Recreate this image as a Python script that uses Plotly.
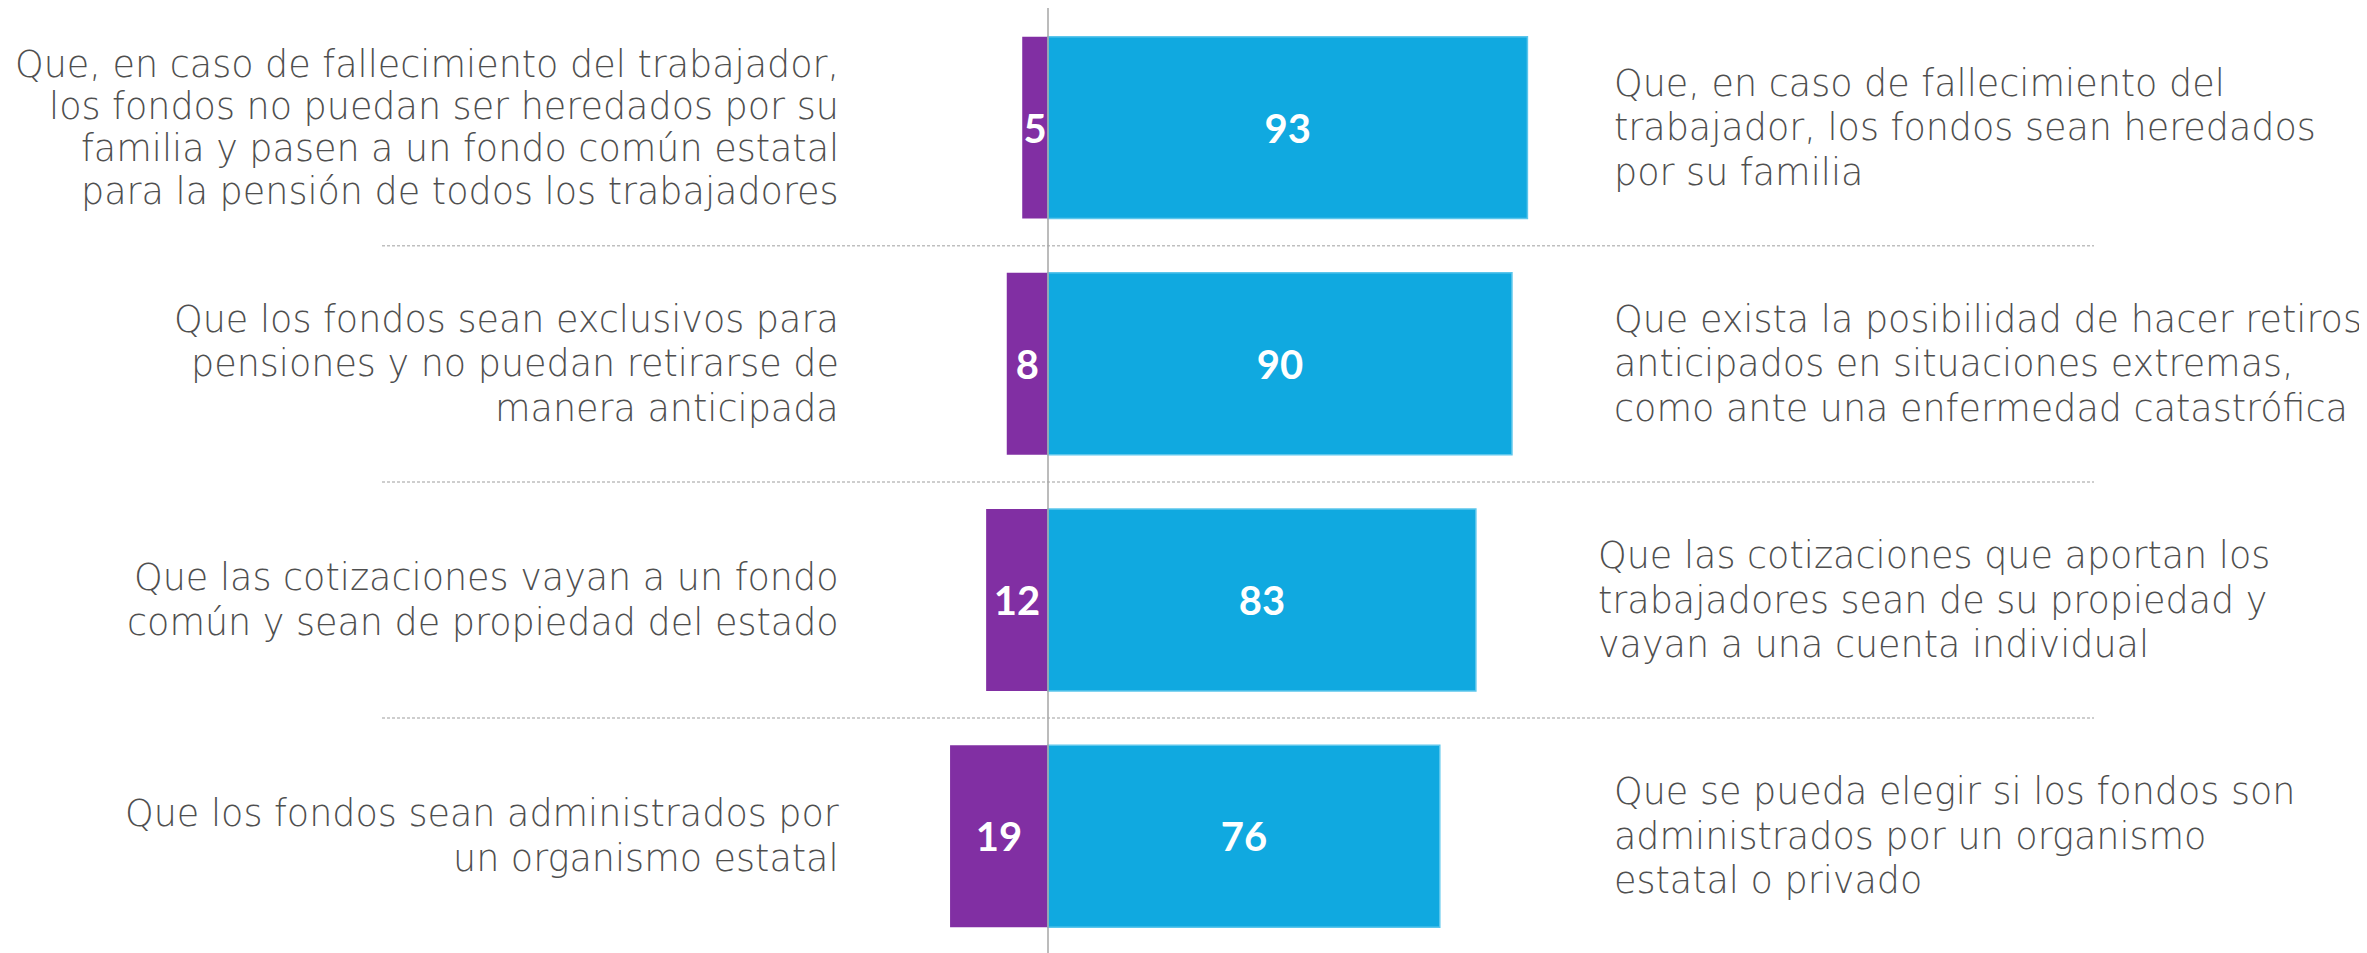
import plotly.graph_objects as go

left_labels = [
    "Que, en caso de fallecimiento del trabajador,<br>los fondos no puedan ser heredados por su<br>familia y pasen a un fondo común estatal<br>para la pensión de todos los trabajadores",
    "Que los fondos sean exclusivos para<br>pensiones y no puedan retirarse de<br>manera anticipada",
    "Que las cotizaciones vayan a un fondo<br>común y sean de propiedad del estado",
    "Que los fondos sean administrados por<br>un organismo estatal",
]
right_labels = [
    "Que, en caso de fallecimiento del<br>trabajador, los fondos sean heredados<br>por su familia",
    "Que exista la posibilidad de hacer retiros<br>anticipados en situaciones extremas,<br>como ante una enfermedad catastrófica",
    "Que las cotizaciones que aportan los<br>trabajadores sean de su propiedad y<br>vayan a una cuenta individual",
    "Que se pueda elegir si los fondos son<br>administrados por un organismo<br>estatal o privado",
]
left_values = [5, 8, 12, 19]
right_values = [93, 90, 83, 76]

rows = list(range(len(left_values)))

PURPLE = "#812FA3"
BLUE = "#10A9E0"
TEXT_GRAY = "#4F4F4F"
OFF = 8  # default page body margin
W, H = 2367 - OFF, 953 - OFF

fig = go.Figure()
fig.add_trace(go.Bar(
    y=rows, x=[-v for v in left_values], orientation="h", width=0.77,
    marker=dict(color=PURPLE, line=dict(width=0)),
    text=[str(v) for v in left_values], textposition="inside",
    insidetextanchor="middle", textangle=0, constraintext="none",
    textfont=dict(family="Lato", size=40, color="white", weight="bold"),
    hoverinfo="skip",
))
fig.add_trace(go.Bar(
    y=rows, x=right_values, orientation="h", width=0.77,
    marker=dict(color=BLUE, line=dict(width=1.5, color="#5CC6EC")),
    text=[str(v) for v in right_values], textposition="inside",
    insidetextanchor="middle", textangle=0, constraintext="none",
    textfont=dict(family="Lato", size=40, color="white", weight="bold"),
    hoverinfo="skip",
))

axis_px = 1048 - OFF
px_per_unit = 5.155
row_px0 = 127.6 - OFF
row_step = 236.2

fig.update_layout(
    width=W, height=H, margin=dict(l=0, r=0, t=0, b=0),
    barmode="overlay", showlegend=False,
    plot_bgcolor="white", paper_bgcolor="white",
    xaxis=dict(visible=False, range=[-axis_px / px_per_unit, (W - axis_px) / px_per_unit]),
    yaxis=dict(visible=False, range=[(H - row_px0) / row_step, -row_px0 / row_step]),
)

# separators
for i in range(len(rows) - 1):
    fig.add_shape(type="line", xref="paper", yref="y",
                  x0=(382 - OFF) / W, x1=(2094 - OFF) / W, y0=i + 0.5, y1=i + 0.5,
                  line=dict(color="#BFBFBF", width=1.5, dash="3px,2px"), layer="below")
# center axis line
fig.add_shape(type="line", xref="x", yref="paper", x0=0, x1=0, y0=0, y1=1,
              line=dict(color="#A6A6A6", width=1.5), layer="above")

TEXT_FONT = dict(family="DejaVu Sans", size=36.5, color=TEXT_GRAY, weight=300)
left_gap = [42.3, 44.5, 44.5, 44.5]
right_x = [1612, 1612, 1596, 1612]


def add_block(label, row, x_px, anchor, gap_px):
    lines = label.split("<br>")
    n = len(lines)
    for k, line in enumerate(lines):
        dy = (k - (n - 1) / 2) * gap_px / row_step
        fig.add_annotation(x=(x_px - OFF) / W, xref="paper", y=row + dy, yref="y",
                           text=line, xanchor=anchor, yanchor="middle", align=anchor,
                           showarrow=False, font=TEXT_FONT)


for i in rows:
    add_block(left_labels[i], i, 841, "right", left_gap[i])
    add_block(right_labels[i], i, right_x[i], "left", 44.5)

fig.write_html("out.html")
